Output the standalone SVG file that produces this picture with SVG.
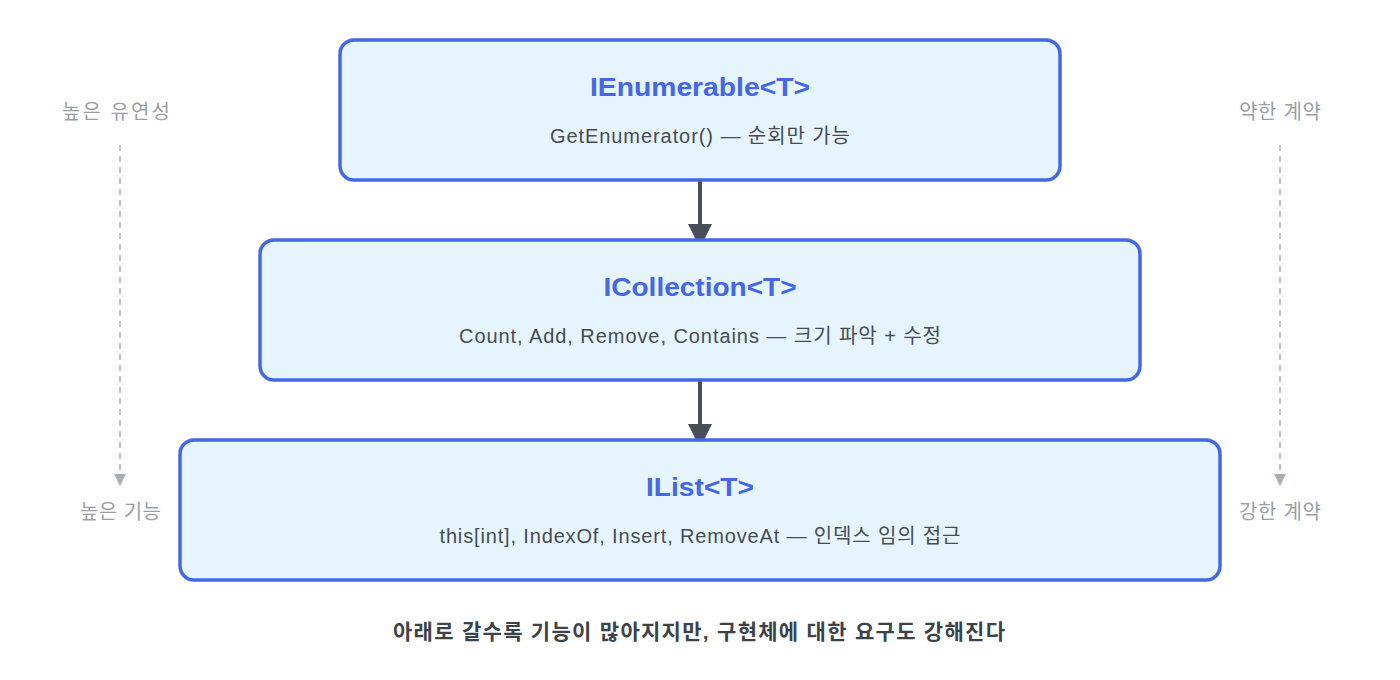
<svg xmlns="http://www.w3.org/2000/svg" width="1400" height="680" viewBox="0 0 1400 680">
<style>
.box{fill:#e6f4fd;stroke:#4466e8;stroke-width:3.5}
.title{font-family:"Liberation Sans","Noto Sans CJK KR",sans-serif;font-weight:bold;font-size:26px;fill:#4466e8;text-anchor:middle}
.sub{font-family:"Liberation Sans","Noto Sans CJK KR",sans-serif;font-size:20px;fill:#454c55;text-anchor:middle}
.side{font-family:"Liberation Sans","Noto Sans CJK KR",sans-serif;font-size:20px;fill:#9a9fa6;text-anchor:middle}
.foot{font-family:"Liberation Sans","Noto Sans CJK KR",sans-serif;font-weight:bold;font-size:21px;fill:#3c4249;text-anchor:middle}
.conn{stroke:#4a4f57;stroke-width:4;fill:none}
.dash{stroke:#a9aeb4;stroke-width:1.5;stroke-dasharray:6 5;fill:none}
</style>
<defs>
<marker id="ah" markerWidth="24" markerHeight="24" refX="12" refY="12" markerUnits="userSpaceOnUse" orient="auto">
<path d="M0,0 L24,12 L0,24 Z" fill="#4a4f57"/>
</marker>
<marker id="dh" markerWidth="12" markerHeight="12" refX="11" refY="6" markerUnits="userSpaceOnUse" orient="auto">
<path d="M0,0 L12,6 L0,12 Z" fill="#a9aeb4"/>
</marker>
</defs>
<g id="connectors">
<line class="conn" x1="700" y1="180" x2="700" y2="236" marker-end="url(#ah)"/>
<line class="conn" x1="700" y1="380" x2="700" y2="436" marker-end="url(#ah)"/>
<line class="dash" x1="120" y1="145" x2="120" y2="485" marker-end="url(#dh)"/>
<line class="dash" x1="1280" y1="145" x2="1280" y2="485" marker-end="url(#dh)"/>
</g>
<g id="ienumerable">
<rect class="box" x="340" y="40" width="720" height="140" rx="14"/>
<text class="title" x="700" y="96" textLength="220" lengthAdjust="spacingAndGlyphs">IEnumerable&lt;T&gt;</text>
<text class="sub" x="700" y="143" textLength="300" lengthAdjust="spacing">GetEnumerator() — 순회만 가능</text>
</g>
<g id="icollection">
<rect class="box" x="260" y="240" width="880" height="140" rx="14"/>
<text class="title" x="700" y="296" textLength="193" lengthAdjust="spacingAndGlyphs">ICollection&lt;T&gt;</text>
<text class="sub" x="700" y="343" textLength="482" lengthAdjust="spacing">Count, Add, Remove, Contains — 크기 파악 + 수정</text>
</g>
<g id="ilist">
<rect class="box" x="180" y="440" width="1040" height="140" rx="14"/>
<text class="title" x="700" y="496" textLength="108" lengthAdjust="spacingAndGlyphs">IList&lt;T&gt;</text>
<text class="sub" x="700" y="543" textLength="521" lengthAdjust="spacing">this[int], IndexOf, Insert, RemoveAt — 인덱스 임의 접근</text>
</g>
<g id="side-labels">
<text class="side" x="116" y="119" textLength="108" lengthAdjust="spacing">높은 유연성</text>
<text class="side" x="120.5" y="519" textLength="81" lengthAdjust="spacing">높은 기능</text>
<text class="side" x="1280" y="119" textLength="82" lengthAdjust="spacing">약한 계약</text>
<text class="side" x="1280" y="519" textLength="82" lengthAdjust="spacing">강한 계약</text>
</g>
<g id="footer">
<text class="foot" x="699" y="639" textLength="612" lengthAdjust="spacing">아래로 갈수록 기능이 많아지지만, 구현체에 대한 요구도 강해진다</text>
</g>
</svg>
